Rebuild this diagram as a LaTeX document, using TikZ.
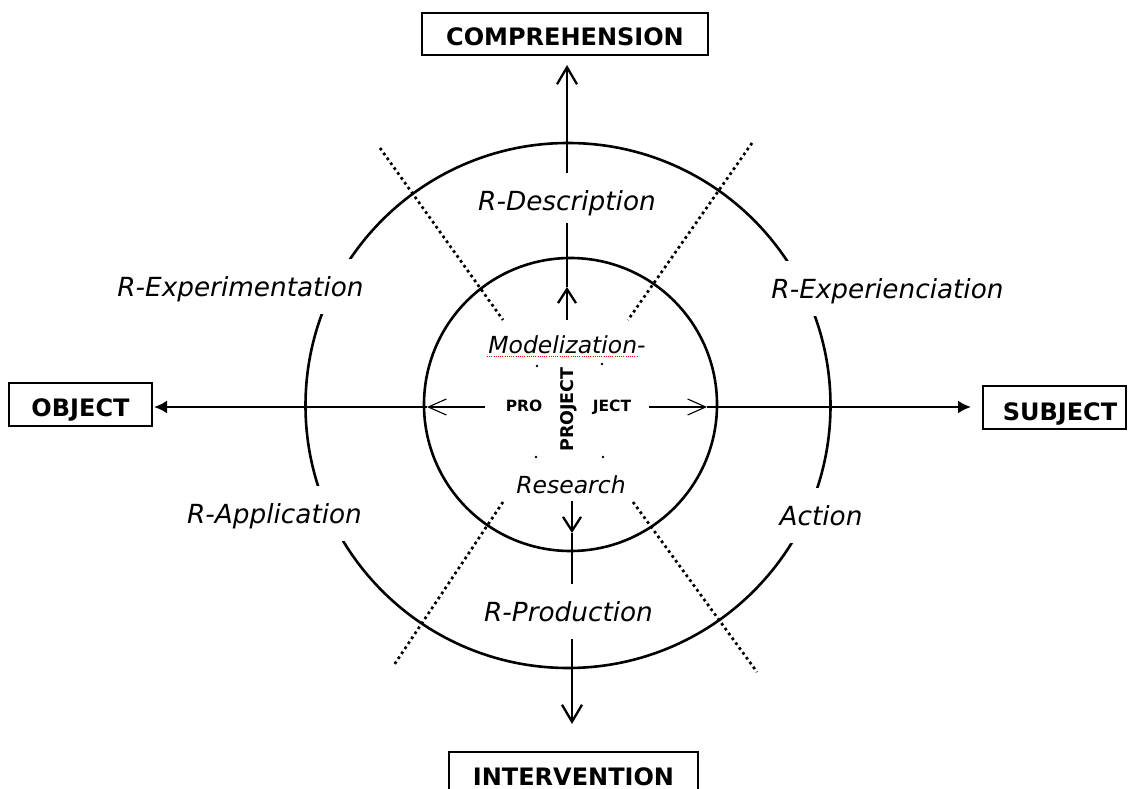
\documentclass[tikz,border=0pt]{standalone}
\usepackage{fontspec}
\setmainfont{DejaVu Sans}
\usetikzlibrary{arrows.meta}
\begin{document}
\begin{tikzpicture}[x=1pt,y=-1pt,
  ring/.style={line width=2.6pt},
  axis/.style={line width=2.3pt},
  sepline/.style={line width=2.7pt, dash pattern=on 2.7pt off 3.3pt},
  box/.style={draw, line width=1.4pt, inner sep=0pt, anchor=base, font=\fontsize{24}{28}\selectfont\bfseries},
  rlabel/.style={fill=white, inner sep=0pt, anchor=base, text height=37pt, text depth=18pt, font=\fontsize{26.3}{30}\selectfont\itshape},
  ilabel/.style={inner sep=0pt, anchor=base, font=\fontsize{23.5}{28}\selectfont\itshape},
  plabel/.style={inner sep=0pt, anchor=base, font=\fontsize{15.5}{18}\selectfont\bfseries},
  obarb/.style={-{Straight Barb[length=17pt,width=20pt]}},
  ibarb/.style={-{Straight Barb[length=14pt,width=18pt]}},
  hbarb/.style={-{Straight Barb[length=18pt,width=16pt,line width=1.1pt]}},
  otri/.style={-{Latex[length=13pt,width=13pt]}}
]
\useasboundingbox (0,0) rectangle (1130,789);

% circles
\draw[ring] (568,405.5) circle[radius=262.5pt];
\draw[ring] (570.5,404.5) circle[radius=146.5pt];

% dotted separators
\draw[sepline] (380,148) -- (503,320);
\draw[sepline] (752,143) -- (628,320);
\draw[sepline] (503,502) -- (394,665);
\draw[sepline] (633,502) -- (757,672);
\fill (537,366) circle[radius=1.4pt];
\fill (602,364) circle[radius=1.4pt];
\fill (536,457) circle[radius=1.4pt];
\fill (603,457) circle[radius=1.4pt];

% axis coordinates
\coordinate (tIn) at (567,320); \coordinate (tMid) at (567,287); \coordinate (tOut) at (567,65);
\coordinate (bIn) at (572,501); \coordinate (bMid) at (572,533); \coordinate (bOut) at (572,724);
\coordinate (lIn) at (485,407); \coordinate (lMid) at (427,407); \coordinate (lOut) at (154,407);
\coordinate (rIn) at (649,407); \coordinate (rMid) at (707,407); \coordinate (rOut) at (971,407);

\draw[axis,ibarb] (tIn) -- (tMid);
\draw[axis,obarb] (tMid) -- (tOut);
\draw[axis,ibarb] (bIn) -- (bMid);
\draw[axis,obarb] (bMid) -- (bOut);
\draw[axis,hbarb] (lIn) -- (lMid);
\draw[axis,otri] (lMid) -- (lOut);
\draw[axis,hbarb] (rIn) -- (rMid);
\draw[axis,otri] (rMid) -- (rOut);

% ring labels (white background breaks lines)
\node[rlabel, text depth=13pt] (rdesc) at (567,210) {R-Description};
\node[rlabel] (rexpm) at (240.5,296) {R-Experimentation};
\node[rlabel] (rexpc) at (887.5,298) {R-Experienciation};
\node[rlabel] (rappl) at (274.5,523) {R-Application};
\node[rlabel] (ract) at (821,525) {Action};
\node[rlabel] (rprod) at (568.5,621) {R-Production};

% inner labels
\node[ilabel] (model) at (567,353) {Modelization-};
\draw[red, line width=0.8pt, dash pattern=on 1pt off 1.2pt] (487,356.5) -- (638,356.5);
\node[ilabel] (resea) at (571,493) {Research};
\node[plabel] (pro) at (524,411) {PRO};
\node[plabel] (ject) at (612,411) {JECT};
\node[plabel, font=\fontsize{17.5}{20}\selectfont\bfseries, rotate=90] (projv) at (573,409.5) {PROJECT};

% boxes
\node[box, text height=33pt, text depth=9pt, minimum width=286pt] (comp) at (565,46) {COMPREHENSION};
\node[box, text height=33pt, text depth=10pt, minimum width=143pt] (obj) at (80.5,416) {OBJECT};
\node[box, text height=34pt, text depth=9pt, minimum width=143pt] (subj) at (1054.5,420) {\kern11pt SUBJECT};
\node[box, text height=33pt, text depth=10pt, minimum width=249pt] (interv) at (573.5,785) {INTERVENTION};
\end{tikzpicture}
\end{document}
